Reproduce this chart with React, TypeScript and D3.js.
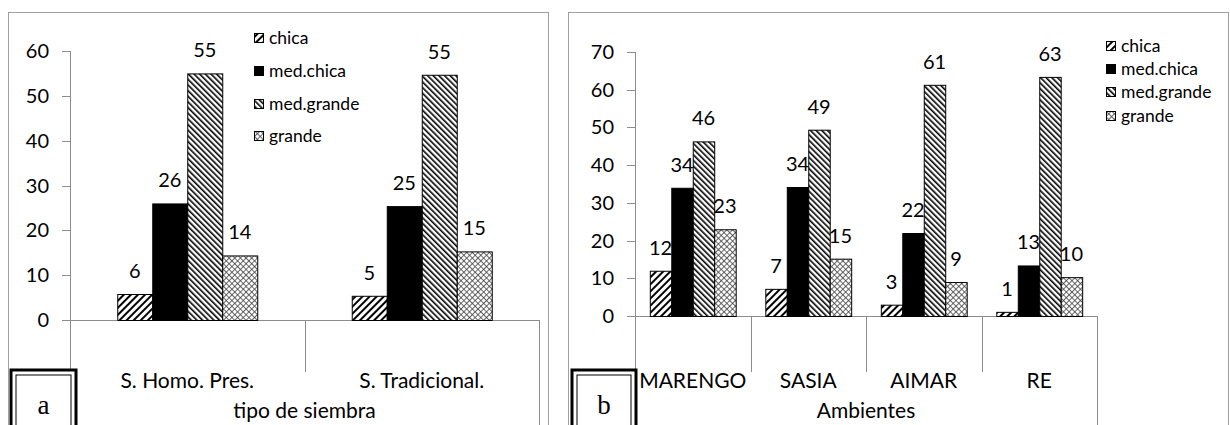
import * as d3 from "d3";

// series names (legend order)
const sizes = ["chica", "med.chica", "med.grande", "grande"];

// panel a: tipo de siembra
const groupsA = ["S. Homo. Pres.", "S. Tradicional."];
const chicaA = [5.8, 5.4];
const medChicaA = [26, 25.4];
const medGrandeA = [55, 54.7];
const grandeA = [14.4, 15.3];
const ticksA = [0, 10, 20, 30, 40, 50, 60];

// panel b: ambientes
const groupsB = ["MARENGO", "SASIA", "AIMAR", "RE"];
const chicaB = [12, 7.2, 3, 1.1];
const medChicaB = [34, 34.2, 22, 13.4];
const medGrandeB = [46.3, 49.4, 61.3, 63.4];
const grandeB = [23, 15.2, 9, 10.3];
const ticksB = [0, 10, 20, 30, 40, 50, 60, 70];

const fills = ["url(#pChica)", "#000", "url(#pMedGrande)", "url(#pGrande)"];
const font = "Lato, 'Open Sans', sans-serif";

const Panel = (props) => {
  const c = props.cfg;
  const y = d3.scaleLinear().domain([0, c.ymax]).range([c.y0, c.ytop]);
  const x0 = d3.scaleBand().domain(c.groups).range([c.xl, c.xr]);
  const x1 = d3
    .scaleBand()
    .domain(sizes)
    .range([0, x0.bandwidth()])
    .paddingOuter(c.pad);
  const series = c.series;
  const fmt = d3.format(".0f");
  const bottom = 440;

  return (
    <g>
      {/* frame */}
      <rect
        x={c.fx0 + 0.5}
        y={12.5}
        width={c.fx1 - c.fx0}
        height={bottom}
        fill="#fff"
        stroke="#a0a0a0"
      />
      {/* y axis */}
      <line x1={c.xl + 0.5} x2={c.xl + 0.5} y1={y(c.ymax)} y2={bottom} stroke="#8c8c8c" />
      {c.ticks.map((t) => (
        <g key={t}>
          <line
            x1={c.xl - 8}
            x2={c.xl}
            y1={Math.round(y(t)) + 0.5}
            y2={Math.round(y(t)) + 0.5}
            stroke="#8c8c8c"
          />
          <text
            x={c.xl - 21}
            y={y(t)}
            dy="0.35em"
            textAnchor="end"
            fontSize={20}
            fontFamily={font}
            fill="#000"
          >
            {t}
          </text>
        </g>
      ))}
      {/* x axis */}
      <line x1={c.xl} x2={c.xr} y1={c.y0 + 0.5} y2={c.y0 + 0.5} stroke="#8c8c8c" />
      <line x1={c.xr + 0.5} x2={c.xr + 0.5} y1={c.y0} y2={bottom} stroke="#8c8c8c" />
      {c.groups.slice(1).map((g) => (
        <line
          key={g}
          x1={Math.round(x0(g)) + 0.5}
          x2={Math.round(x0(g)) + 0.5}
          y1={c.y0}
          y2={372}
          stroke="#8c8c8c"
        />
      ))}
      {c.groups.map((g) => (
        <text
          key={g}
          x={x0(g) + x0.bandwidth() / 2}
          y={388}
          textAnchor="middle"
          fontSize={21}
          fontFamily={font}
        >
          {g}
        </text>
      ))}
      <text
        x={(c.xl + c.xr) / 2}
        y={418}
        textAnchor="middle"
        fontSize={21}
        fontFamily={font}
      >
        {c.axisTitle}
      </text>
      {/* bars */}
      {sizes.map((s, si) => (
        <g key={s}>
          {series[si].map((v, gi) => {
            const bx = x0(c.groups[gi]) + x1(s);
            return (
              <g key={gi}>
                <rect
                  x={bx + 0.5}
                  y={y(v) + 0.5}
                  width={x1.bandwidth()}
                  height={y(0) - y(v)}
                  fill={fills[si]}
                  stroke="#000"
                  strokeWidth={1}
                />
                <text
                  x={bx + x1.bandwidth() / 2}
                  y={y(v) - c.labelGap}
                  textAnchor="middle"
                  fontSize={20}
                  fontFamily={font}
                >
                  {fmt(v)}
                </text>
              </g>
            );
          })}
        </g>
      ))}
      {/* legend */}
      {sizes.map((s, si) => (
        <g key={s}>
          <rect
            x={c.lx + 0.5}
            y={c.ly[si] - 5 + 0.5}
            width={9}
            height={9}
            fill={fills[si]}
            stroke="#000"
          />
          <text
            x={c.lx + 15}
            y={c.ly[si]}
            dy="0.35em"
            fontSize={17.5}
            fontFamily={font}
          >
            {s}
          </text>
        </g>
      ))}
      {/* panel letter box */}
      <rect
        x={c.bx}
        y={370}
        width={c.bw}
        height={80}
        fill="#fff"
        stroke="#000"
        strokeWidth={3}
      />
      <rect
        x={c.bx + 5}
        y={375}
        width={c.bw - 10}
        height={80}
        fill="#fff"
        stroke="#000"
        strokeWidth={1}
      />
      <text
        x={c.bx + c.bw / 2}
        y={414}
        textAnchor="middle"
        fontSize={27}
        fontFamily="'Liberation Serif', 'DejaVu Serif', serif"
      >
        {c.letter}
      </text>
    </g>
  );
};

const cfgA = {
  groups: groupsA,
  series: [chicaA, medChicaA, medGrandeA, grandeA],
  ticks: ticksA,
  ymax: 60,
  y0: 320,
  ytop: 51,
  xl: 70,
  xr: 539,
  pad: 1.35,
  fx0: 8,
  fx1: 548,
  lx: 254,
  ly: [38, 71, 104, 136],
  labelGap: 16,
  axisTitle: "tipo de siembra",
  bx: 11,
  bw: 65,
  letter: "a",
};

const cfgB = {
  groups: groupsB,
  series: [chicaB, medChicaB, medGrandeB, grandeB],
  ticks: ticksB,
  ymax: 70,
  y0: 316,
  ytop: 52,
  xl: 635,
  xr: 1097,
  pad: 0.69,
  fx0: 568,
  fx1: 1228,
  lx: 1106,
  ly: [46, 69, 92, 116],
  labelGap: 16,
  axisTitle: "Ambientes",
  bx: 572,
  bw: 64,
  letter: "b",
};

const App = () => {
  return (
    <svg
      width={1230}
      height={425}
      style={{ position: "absolute", left: 0, top: 0, background: "#fff" }}
    >
      <defs>
        <pattern
          id="pChica"
          patternUnits="userSpaceOnUse"
          width={5}
          height={5}
          patternTransform="rotate(45)"
        >
          <rect width={5} height={5} fill="#fff" />
          <rect x={0} y={0} width={2} height={5} fill="#000" />
        </pattern>
        <pattern
          id="pMedGrande"
          patternUnits="userSpaceOnUse"
          width={4}
          height={4}
          patternTransform="rotate(-45)"
        >
          <rect width={4} height={4} fill="#fff" />
          <rect x={0} y={0} width={1.6} height={4} fill="#000" />
        </pattern>
        <pattern
          id="pGrande"
          patternUnits="userSpaceOnUse"
          width={4}
          height={4}
          patternTransform="rotate(45)"
        >
          <rect width={4} height={4} fill="#fff" />
          <rect x={0} y={0} width={0.8} height={4} fill="#444" />
          <rect x={0} y={0} width={4} height={0.8} fill="#444" />
        </pattern>
      </defs>
      <Panel cfg={cfgA} />
      <Panel cfg={cfgB} />
    </svg>
  );
};

export default App;
